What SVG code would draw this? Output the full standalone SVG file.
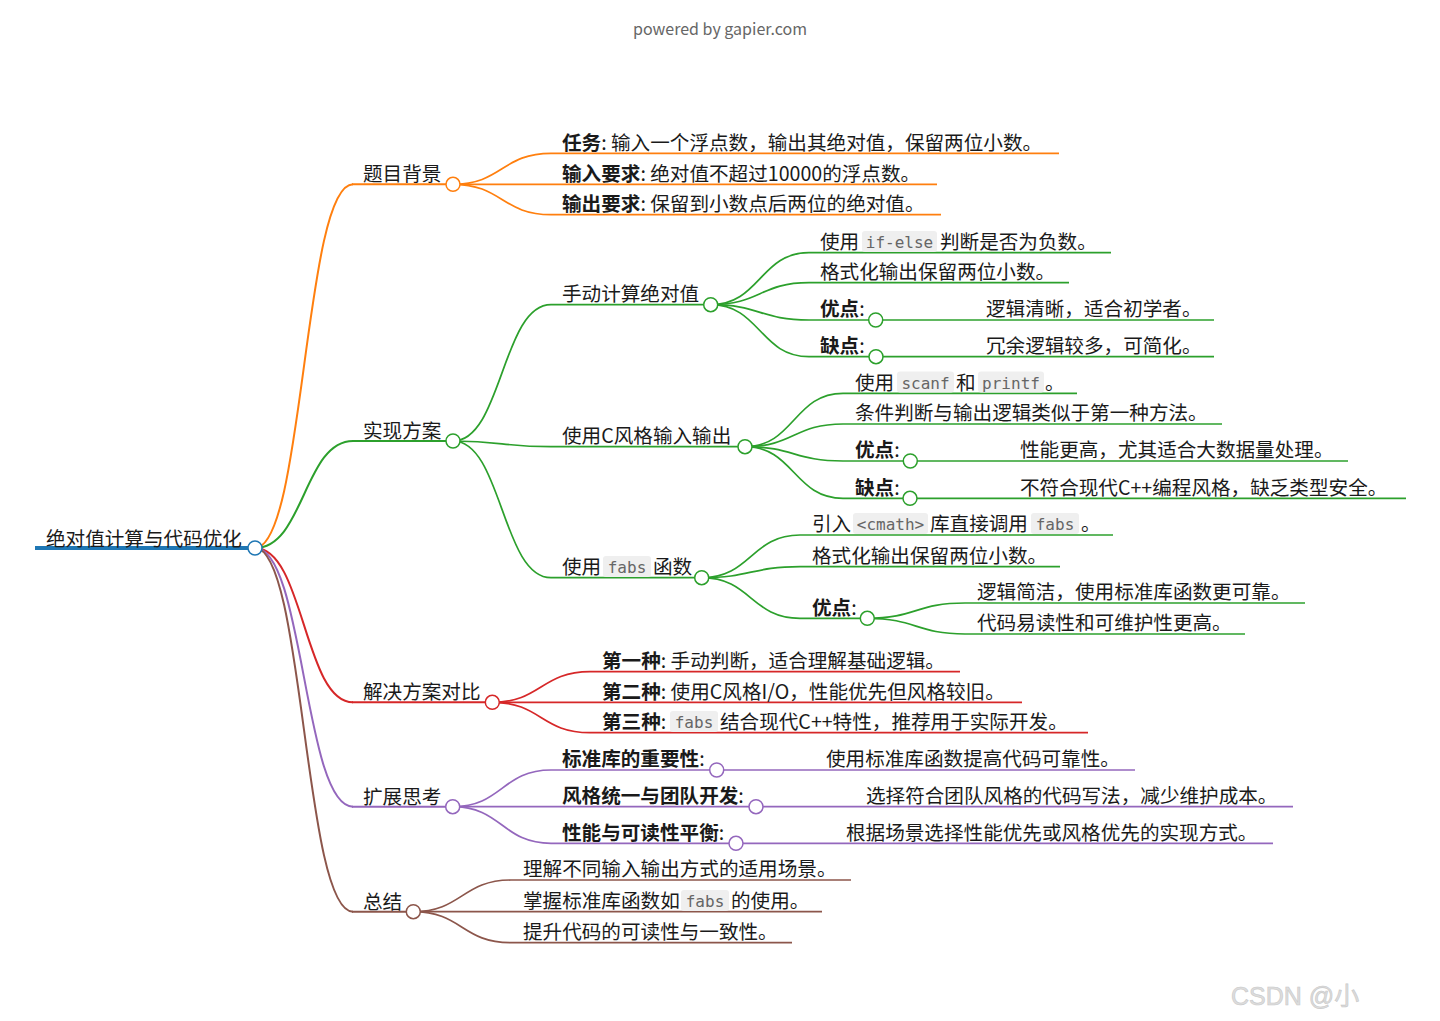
<svg xmlns="http://www.w3.org/2000/svg" width="1440" height="1021" viewBox="0 0 1440 1021">
<style>
.t{font-family:"Noto Sans CJK SC","Noto Sans",sans-serif;font-size:19.6px;fill:#1a1a1a}
.b{font-weight:700}
.code{font-family:"DejaVu Sans Mono",monospace;font-size:16px;fill:#666}
.cb{fill:#efefef}
.lk{fill:none;stroke-width:1.7}
.l1{fill:none;stroke-width:2}
.ln{stroke-width:1.7}
.ln1{stroke-width:2}
.dot{fill:#fff;stroke-width:1.5}
.or{stroke:#ff7f0e}.gr{stroke:#2ca02c}.rd{stroke:#d62728}.pu{stroke:#9467bd}.br{stroke:#8c564b}.bl{stroke:#1f77b4}
</style>
<rect width="1440" height="1021" fill="#fff"/>
<text x="720" y="35" text-anchor="middle" font-family="'Noto Sans CJK SC','Noto Sans',sans-serif" font-size="16" fill="#666">powered by gapier.com</text>

<g id="connectors">
<path class="l1 or" d="M255,548 C304,548 304,184.3 353,184.3"/>
<path class="l1 gr" d="M255,548 C304,548 304,441 353,441"/>
<path class="l1 rd" d="M255,548 C304,548 304,702.3 353,702.3"/>
<path class="l1 pu" d="M255,548 C304,548 304,806.7 353,806.7"/>
<path class="l1 br" d="M255,548 C304,548 304,911.7 353,911.7"/>

<path class="lk or" d="M453,184.3 C502,184.3 502,153.3 551,153.3"/>
<path class="lk or" d="M453,184.3 L551,184.3"/>
<path class="lk or" d="M453,184.3 C502,184.3 502,214.7 551,214.7"/>

<path class="lk gr" d="M453,441 C502,441 502,304.7 551,304.7"/>
<path class="lk gr" d="M453,441 C502,441 502,446.7 551,446.7"/>
<path class="lk gr" d="M453,441 C502,441 502,577.7 551,577.7"/>

<path class="lk gr" d="M710.7,304.7 C760,304.7 760,252.7 809,252.7"/>
<path class="lk gr" d="M710.7,304.7 C760,304.7 760,282.7 809,282.7"/>
<path class="lk gr" d="M710.7,304.7 C760,304.7 760,320 809,320"/>
<path class="lk gr" d="M710.7,304.7 C760,304.7 760,356.7 809,356.7"/>
<path class="lk gr" d="M875.7,320 L974,320"/>
<path class="lk gr" d="M876,356.7 L974,356.7"/>

<path class="lk gr" d="M745,446.7 C794,446.7 794,393.3 843,393.3"/>
<path class="lk gr" d="M745,446.7 C794,446.7 794,424 843,424"/>
<path class="lk gr" d="M745,446.7 C794,446.7 794,461 843,461"/>
<path class="lk gr" d="M745,446.7 C794,446.7 794,498.3 843,498.3"/>
<path class="lk gr" d="M910.3,461 L1008,461"/>
<path class="lk gr" d="M910,498.3 L1008,498.3"/>

<path class="lk gr" d="M701.7,577.7 C751,577.7 751,535 800,535"/>
<path class="lk gr" d="M701.7,577.7 C751,577.7 751,566.7 800,566.7"/>
<path class="lk gr" d="M701.7,577.7 C751,577.7 751,618.3 800,618.3"/>
<path class="lk gr" d="M867.3,618.3 C916,618.3 916,603 965,603"/>
<path class="lk gr" d="M867.3,618.3 C916,618.3 916,634 965,634"/>

<path class="lk rd" d="M492.3,702.3 C541,702.3 541,671.7 590,671.7"/>
<path class="lk rd" d="M492.3,702.3 L590,702.3"/>
<path class="lk rd" d="M492.3,702.3 C541,702.3 541,732.7 590,732.7"/>

<path class="lk pu" d="M452.7,806.7 C502,806.7 502,770 551,770"/>
<path class="lk pu" d="M452.7,806.7 L551,806.7"/>
<path class="lk pu" d="M452.7,806.7 C502,806.7 502,843.3 551,843.3"/>
<path class="lk pu" d="M716.7,770 L815,770"/>
<path class="lk pu" d="M756,806.7 L855,806.7"/>
<path class="lk pu" d="M736,843.3 L835,843.3"/>

<path class="lk br" d="M413.3,911.7 C462,911.7 462,880 511,880"/>
<path class="lk br" d="M413.3,911.7 L511,911.7"/>
<path class="lk br" d="M413.3,911.7 C462,911.7 462,942.7 511,942.7"/>
</g>

<g id="root">
<line x1="35" y1="548" x2="249" y2="548" class="bl" stroke-width="4"/>
<text class="t" x="46" y="545.5">绝对值计算与代码优化</text>
<circle class="dot bl" cx="255" cy="548" r="7"/>
</g>

<g id="n-bg">
<line x1="352" y1="184.3" x2="446" y2="184.3" class="ln1 or"/>
<text class="t" x="363" y="181">题目背景</text>
<circle class="dot or" cx="453" cy="184.3" r="7"/>
</g>
<g id="n-bg1">
<line x1="551" y1="153.3" x2="1059" y2="153.3" class="ln or"/>
<text class="t" x="562" y="149.5"><tspan class="b">任务</tspan>: 输入一个浮点数，输出其绝对值，保留两位小数。</text>
</g>
<g id="n-bg2">
<line x1="551" y1="184.3" x2="937" y2="184.3" class="ln or"/>
<text class="t" x="562" y="180.5"><tspan class="b">输入要求</tspan>: 绝对值不超过10000的浮点数。</text>
</g>
<g id="n-bg3">
<line x1="551" y1="214.7" x2="941" y2="214.7" class="ln or"/>
<text class="t" x="562" y="211"><tspan class="b">输出要求</tspan>: 保留到小数点后两位的绝对值。</text>
</g>

<g id="n-impl">
<line x1="352" y1="441" x2="446" y2="441" class="ln1 gr"/>
<text class="t" x="363" y="437.5">实现方案</text>
<circle class="dot gr" cx="453" cy="441" r="7"/>
</g>
<g id="n-m1">
<line x1="551" y1="304.7" x2="704" y2="304.7" class="ln gr"/>
<text class="t" x="562" y="301">手动计算绝对值</text>
<circle class="dot gr" cx="710.7" cy="304.7" r="7"/>
</g>
<g id="n-m1a">
<line x1="809" y1="252.7" x2="1111" y2="252.7" class="ln gr"/>
<text class="t" x="820" y="249">使用</text>
<rect class="cb" x="862" y="231" width="75" height="21" rx="3"/>
<text class="code" x="899.5" y="248" text-anchor="middle">if-else</text>
<text class="t" x="940" y="249">判断是否为负数。</text>
</g>
<g id="n-m1b">
<line x1="809" y1="282.7" x2="1069" y2="282.7" class="ln gr"/>
<text class="t" x="820" y="279">格式化输出保留两位小数。</text>
</g>
<g id="n-m1c">
<line x1="809" y1="320" x2="869" y2="320" class="ln gr"/>
<text class="t" x="820" y="316.3"><tspan class="b">优点</tspan>:</text>
<circle class="dot gr" cx="875.7" cy="320" r="7"/>
</g>
<g id="n-m1c1">
<line x1="974" y1="320" x2="1214" y2="320" class="ln gr"/>
<text class="t" x="986" y="316.3">逻辑清晰，适合初学者。</text>
</g>
<g id="n-m1d">
<line x1="809" y1="356.7" x2="869" y2="356.7" class="ln gr"/>
<text class="t" x="820" y="353"><tspan class="b">缺点</tspan>:</text>
<circle class="dot gr" cx="876" cy="356.7" r="7"/>
</g>
<g id="n-m1d1">
<line x1="974" y1="356.7" x2="1214" y2="356.7" class="ln gr"/>
<text class="t" x="986" y="353">冗余逻辑较多，可简化。</text>
</g>

<g id="n-m2">
<line x1="551" y1="446.7" x2="738" y2="446.7" class="ln gr"/>
<text class="t" x="562" y="443">使用C风格输入输出</text>
<circle class="dot gr" cx="745" cy="446.7" r="7"/>
</g>
<g id="n-m2a">
<line x1="843" y1="393.3" x2="1077" y2="393.3" class="ln gr"/>
<text class="t" x="855" y="389.5">使用</text>
<rect class="cb" x="897" y="371.5" width="57" height="21" rx="3"/>
<text class="code" x="925.5" y="388.5" text-anchor="middle">scanf</text>
<text class="t" x="956" y="389.5">和</text>
<rect class="cb" x="978" y="371.5" width="66" height="21" rx="3"/>
<text class="code" x="1011" y="388.5" text-anchor="middle">printf</text>
<text class="t" x="1045" y="389.5">。</text>
</g>
<g id="n-m2b">
<line x1="843" y1="424" x2="1222" y2="424" class="ln gr"/>
<text class="t" x="855" y="420.3">条件判断与输出逻辑类似于第一种方法。</text>
</g>
<g id="n-m2c">
<line x1="843" y1="461" x2="903" y2="461" class="ln gr"/>
<text class="t" x="855" y="457.3"><tspan class="b">优点</tspan>:</text>
<circle class="dot gr" cx="910.3" cy="461" r="7"/>
</g>
<g id="n-m2c1">
<line x1="1008" y1="461" x2="1348" y2="461" class="ln gr"/>
<text class="t" x="1020" y="457.3">性能更高，尤其适合大数据量处理。</text>
</g>
<g id="n-m2d">
<line x1="843" y1="498.3" x2="903" y2="498.3" class="ln gr"/>
<text class="t" x="855" y="494.5"><tspan class="b">缺点</tspan>:</text>
<circle class="dot gr" cx="910" cy="498.3" r="7"/>
</g>
<g id="n-m2d1">
<line x1="1008" y1="498.3" x2="1406" y2="498.3" class="ln gr"/>
<text class="t" x="1020" y="494.5">不符合现代C++编程风格，缺乏类型安全。</text>
</g>

<g id="n-m3">
<line x1="551" y1="577.7" x2="695" y2="577.7" class="ln gr"/>
<text class="t" x="562" y="574">使用</text>
<rect class="cb" x="603" y="556" width="48" height="21" rx="3"/>
<text class="code" x="627" y="573" text-anchor="middle">fabs</text>
<text class="t" x="653" y="574">函数</text>
<circle class="dot gr" cx="701.7" cy="577.7" r="7"/>
</g>
<g id="n-m3a">
<line x1="800" y1="535" x2="1113" y2="535" class="ln gr"/>
<text class="t" x="812" y="531.3">引入</text>
<rect class="cb" x="853" y="513" width="75" height="21" rx="3"/>
<text class="code" x="890.5" y="530" text-anchor="middle">&lt;cmath&gt;</text>
<text class="t" x="930" y="531.3">库直接调用</text>
<rect class="cb" x="1031" y="513" width="48" height="21" rx="3"/>
<text class="code" x="1055" y="530" text-anchor="middle">fabs</text>
<text class="t" x="1081" y="531.3">。</text>
</g>
<g id="n-m3b">
<line x1="800" y1="566.7" x2="1060" y2="566.7" class="ln gr"/>
<text class="t" x="812" y="563">格式化输出保留两位小数。</text>
</g>
<g id="n-m3c">
<line x1="800" y1="618.3" x2="860" y2="618.3" class="ln gr"/>
<text class="t" x="812" y="614.5"><tspan class="b">优点</tspan>:</text>
<circle class="dot gr" cx="867.3" cy="618.3" r="7"/>
</g>
<g id="n-m3c1">
<line x1="965" y1="603" x2="1305" y2="603" class="ln gr"/>
<text class="t" x="977" y="599.3">逻辑简洁，使用标准库函数更可靠。</text>
</g>
<g id="n-m3c2">
<line x1="965" y1="634" x2="1245" y2="634" class="ln gr"/>
<text class="t" x="977" y="630.3">代码易读性和可维护性更高。</text>
</g>

<g id="n-cmp">
<line x1="352" y1="702.3" x2="485" y2="702.3" class="ln1 rd"/>
<text class="t" x="363" y="699">解决方案对比</text>
<circle class="dot rd" cx="492.3" cy="702.3" r="7"/>
</g>
<g id="n-cmp1">
<line x1="590" y1="671.7" x2="960" y2="671.7" class="ln rd"/>
<text class="t" x="602" y="668"><tspan class="b">第一种</tspan>: 手动判断，适合理解基础逻辑。</text>
</g>
<g id="n-cmp2">
<line x1="590" y1="702.3" x2="1022" y2="702.3" class="ln rd"/>
<text class="t" x="602" y="698.5"><tspan class="b">第二种</tspan>: 使用C风格I/O，性能优先但风格较旧。</text>
</g>
<g id="n-cmp3">
<line x1="590" y1="732.7" x2="1088" y2="732.7" class="ln rd"/>
<text class="t" x="602" y="729"><tspan class="b">第三种</tspan>:</text>
<rect class="cb" x="670" y="711" width="48" height="21" rx="3"/>
<text class="code" x="694" y="728" text-anchor="middle">fabs</text>
<text class="t" x="720" y="729">结合现代C++特性，推荐用于实际开发。</text>
</g>

<g id="n-ext">
<line x1="352" y1="806.7" x2="446" y2="806.7" class="ln1 pu"/>
<text class="t" x="363" y="803.5">扩展思考</text>
<circle class="dot pu" cx="452.7" cy="806.7" r="7"/>
</g>
<g id="n-ext1">
<line x1="551" y1="770" x2="710" y2="770" class="ln pu"/>
<text class="t" x="562" y="766.3"><tspan class="b">标准库的重要性</tspan>:</text>
<circle class="dot pu" cx="716.7" cy="770" r="7"/>
</g>
<g id="n-ext1a">
<line x1="815" y1="770" x2="1135" y2="770" class="ln pu"/>
<text class="t" x="826" y="766.3">使用标准库函数提高代码可靠性。</text>
</g>
<g id="n-ext2">
<line x1="551" y1="806.7" x2="749" y2="806.7" class="ln pu"/>
<text class="t" x="562" y="803"><tspan class="b">风格统一与团队开发</tspan>:</text>
<circle class="dot pu" cx="756" cy="806.7" r="7"/>
</g>
<g id="n-ext2a">
<line x1="855" y1="806.7" x2="1293" y2="806.7" class="ln pu"/>
<text class="t" x="866" y="803">选择符合团队风格的代码写法，减少维护成本。</text>
</g>
<g id="n-ext3">
<line x1="551" y1="843.3" x2="729" y2="843.3" class="ln pu"/>
<text class="t" x="562" y="839.5"><tspan class="b">性能与可读性平衡</tspan>:</text>
<circle class="dot pu" cx="736" cy="843.3" r="7"/>
</g>
<g id="n-ext3a">
<line x1="835" y1="843.3" x2="1273" y2="843.3" class="ln pu"/>
<text class="t" x="846" y="839.5">根据场景选择性能优先或风格优先的实现方式。</text>
</g>

<g id="n-sum">
<line x1="352" y1="911.7" x2="406" y2="911.7" class="ln1 br"/>
<text class="t" x="363" y="908.5">总结</text>
<circle class="dot br" cx="413.3" cy="911.7" r="7"/>
</g>
<g id="n-sum1">
<line x1="511" y1="880" x2="851" y2="880" class="ln br"/>
<text class="t" x="523" y="876.3">理解不同输入输出方式的适用场景。</text>
</g>
<g id="n-sum2">
<line x1="511" y1="911.7" x2="822" y2="911.7" class="ln br"/>
<text class="t" x="523" y="908">掌握标准库函数如</text>
<rect class="cb" x="681" y="890" width="48" height="21" rx="3"/>
<text class="code" x="705" y="907" text-anchor="middle">fabs</text>
<text class="t" x="731" y="908">的使用。</text>
</g>
<g id="n-sum3">
<line x1="511" y1="942.7" x2="792" y2="942.7" class="ln br"/>
<text class="t" x="523" y="939">提升代码的可读性与一致性。</text>
</g>

<text x="1231" y="1005" font-family="'Liberation Sans','Noto Sans CJK SC',sans-serif" font-size="25" fill="#ddd" stroke="#c8c8c8" stroke-width="0.6">CSDN @小</text>
</svg>
